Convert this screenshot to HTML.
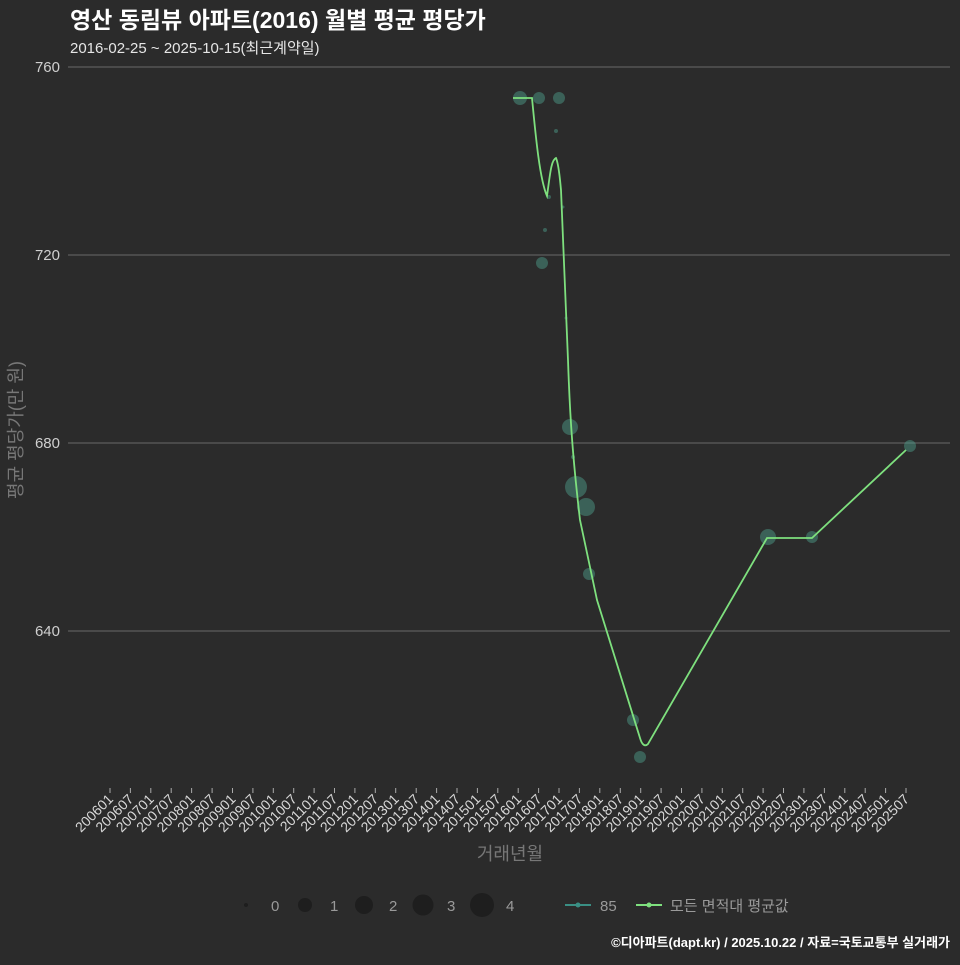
<!DOCTYPE html><html><head><meta charset="utf-8"><style>
body{margin:0;background:#2b2b2b;}
svg text{font-family:"Liberation Sans","Noto Sans CJK KR",sans-serif;}
</style></head><body>
<svg width="960" height="960" xmlns="http://www.w3.org/2000/svg">
<rect width="960" height="960" fill="#2b2b2b"/>
<text x="70" y="28" font-size="23" font-weight="bold" fill="#ffffff">영산 동림뷰 아파트(2016) 월별 평균 평당가</text>
<text x="70" y="53" font-size="15" fill="#e6e6e6">2016-02-25 ~ 2025-10-15(최근계약일)</text>
<g stroke="#6a6a6a" stroke-width="1">
<line x1="68" y1="67" x2="950" y2="67"/><line x1="68" y1="255" x2="950" y2="255"/>
<line x1="68" y1="443" x2="950" y2="443"/><line x1="68" y1="631" x2="950" y2="631"/>
</g>
<g font-size="15" fill="#cfcfcf" text-anchor="end">
<text x="60" y="72">760</text><text x="60" y="260">720</text><text x="60" y="448">680</text><text x="60" y="636">640</text>
</g>
<text transform="translate(22,430) rotate(-90)" font-size="18" fill="#777" text-anchor="middle">평균 평당가(만 원)</text>
<g stroke="#aaa" stroke-width="1">
<line x1="110.0" y1="788" x2="110.0" y2="793"/><line x1="130.4" y1="788" x2="130.4" y2="793"/><line x1="150.8" y1="788" x2="150.8" y2="793"/><line x1="171.2" y1="788" x2="171.2" y2="793"/><line x1="191.6" y1="788" x2="191.6" y2="793"/><line x1="212.1" y1="788" x2="212.1" y2="793"/><line x1="232.5" y1="788" x2="232.5" y2="793"/><line x1="252.9" y1="788" x2="252.9" y2="793"/><line x1="273.3" y1="788" x2="273.3" y2="793"/><line x1="293.7" y1="788" x2="293.7" y2="793"/><line x1="314.1" y1="788" x2="314.1" y2="793"/><line x1="334.5" y1="788" x2="334.5" y2="793"/><line x1="354.9" y1="788" x2="354.9" y2="793"/><line x1="375.3" y1="788" x2="375.3" y2="793"/><line x1="395.7" y1="788" x2="395.7" y2="793"/><line x1="416.2" y1="788" x2="416.2" y2="793"/><line x1="436.6" y1="788" x2="436.6" y2="793"/><line x1="457.0" y1="788" x2="457.0" y2="793"/><line x1="477.4" y1="788" x2="477.4" y2="793"/><line x1="497.8" y1="788" x2="497.8" y2="793"/><line x1="518.2" y1="788" x2="518.2" y2="793"/><line x1="538.6" y1="788" x2="538.6" y2="793"/><line x1="559.0" y1="788" x2="559.0" y2="793"/><line x1="579.4" y1="788" x2="579.4" y2="793"/><line x1="599.8" y1="788" x2="599.8" y2="793"/><line x1="620.3" y1="788" x2="620.3" y2="793"/><line x1="640.7" y1="788" x2="640.7" y2="793"/><line x1="661.1" y1="788" x2="661.1" y2="793"/><line x1="681.5" y1="788" x2="681.5" y2="793"/><line x1="701.9" y1="788" x2="701.9" y2="793"/><line x1="722.3" y1="788" x2="722.3" y2="793"/><line x1="742.7" y1="788" x2="742.7" y2="793"/><line x1="763.1" y1="788" x2="763.1" y2="793"/><line x1="783.5" y1="788" x2="783.5" y2="793"/><line x1="803.9" y1="788" x2="803.9" y2="793"/><line x1="824.4" y1="788" x2="824.4" y2="793"/><line x1="844.8" y1="788" x2="844.8" y2="793"/><line x1="865.2" y1="788" x2="865.2" y2="793"/><line x1="885.6" y1="788" x2="885.6" y2="793"/><line x1="906.0" y1="788" x2="906.0" y2="793"/>
</g>
<g font-size="14" fill="#d8d8d8" text-anchor="end">
<text transform="translate(114.0,800) rotate(-45)">200601</text><text transform="translate(134.4,800) rotate(-45)">200607</text><text transform="translate(154.8,800) rotate(-45)">200701</text><text transform="translate(175.2,800) rotate(-45)">200707</text><text transform="translate(195.6,800) rotate(-45)">200801</text><text transform="translate(216.1,800) rotate(-45)">200807</text><text transform="translate(236.5,800) rotate(-45)">200901</text><text transform="translate(256.9,800) rotate(-45)">200907</text><text transform="translate(277.3,800) rotate(-45)">201001</text><text transform="translate(297.7,800) rotate(-45)">201007</text><text transform="translate(318.1,800) rotate(-45)">201101</text><text transform="translate(338.5,800) rotate(-45)">201107</text><text transform="translate(358.9,800) rotate(-45)">201201</text><text transform="translate(379.3,800) rotate(-45)">201207</text><text transform="translate(399.7,800) rotate(-45)">201301</text><text transform="translate(420.2,800) rotate(-45)">201307</text><text transform="translate(440.6,800) rotate(-45)">201401</text><text transform="translate(461.0,800) rotate(-45)">201407</text><text transform="translate(481.4,800) rotate(-45)">201501</text><text transform="translate(501.8,800) rotate(-45)">201507</text><text transform="translate(522.2,800) rotate(-45)">201601</text><text transform="translate(542.6,800) rotate(-45)">201607</text><text transform="translate(563.0,800) rotate(-45)">201701</text><text transform="translate(583.4,800) rotate(-45)">201707</text><text transform="translate(603.8,800) rotate(-45)">201801</text><text transform="translate(624.3,800) rotate(-45)">201807</text><text transform="translate(644.7,800) rotate(-45)">201901</text><text transform="translate(665.1,800) rotate(-45)">201907</text><text transform="translate(685.5,800) rotate(-45)">202001</text><text transform="translate(705.9,800) rotate(-45)">202007</text><text transform="translate(726.3,800) rotate(-45)">202101</text><text transform="translate(746.7,800) rotate(-45)">202107</text><text transform="translate(767.1,800) rotate(-45)">202201</text><text transform="translate(787.5,800) rotate(-45)">202207</text><text transform="translate(807.9,800) rotate(-45)">202301</text><text transform="translate(828.4,800) rotate(-45)">202307</text><text transform="translate(848.8,800) rotate(-45)">202401</text><text transform="translate(869.2,800) rotate(-45)">202407</text><text transform="translate(889.6,800) rotate(-45)">202501</text><text transform="translate(910.0,800) rotate(-45)">202507</text>
</g>
<text x="510" y="860" font-size="18" fill="#777" text-anchor="middle">거래년월</text>
<g fill="rgba(80,165,145,0.45)">
<circle cx="520" cy="98" r="7"/><circle cx="539" cy="98" r="6"/><circle cx="559" cy="98" r="6"/>
<circle cx="556" cy="131" r="2"/><circle cx="545" cy="230" r="2"/><circle cx="542" cy="263" r="6"/>
<circle cx="549" cy="197" r="2"/><circle cx="563" cy="207" r="1.5"/><circle cx="570" cy="427" r="8"/>
<circle cx="573" cy="457" r="2"/><circle cx="576" cy="487" r="11"/><circle cx="586" cy="507" r="9"/>
<circle cx="589" cy="574" r="6"/><circle cx="633" cy="720" r="6"/><circle cx="640" cy="757" r="6"/>
<circle cx="768" cy="537" r="8"/><circle cx="812" cy="537" r="6"/><circle cx="910" cy="446" r="6"/>
<circle cx="566" cy="318" r="1.5"/>
</g>
<path d="M513,98 L532,98 C536,140 540,180 547,196 C550,175 551,160 556,158 C559,165 560,180 561,190 C564,260 566,320 568,360 C570,420 573,460 580,520 L597,600 L640,738 C642,745 645,747 648,744 L767,538 L812,538 L906,450" fill="none" stroke="#7ee07e" stroke-width="1.8"/>
<g font-size="15" fill="#9a9a9a">
<circle cx="246" cy="905" r="2" fill="#1e1e1e"/><text x="271" y="911">0</text>
<circle cx="305" cy="905" r="7" fill="#1e1e1e"/><text x="330" y="911">1</text>
<circle cx="364" cy="905" r="9" fill="#1e1e1e"/><text x="389" y="911">2</text>
<circle cx="423" cy="905" r="10.5" fill="#1e1e1e"/><text x="447" y="911">3</text>
<circle cx="482" cy="905" r="12" fill="#1e1e1e"/><text x="506" y="911">4</text>
<line x1="565" y1="905" x2="591" y2="905" stroke="#3a8f84" stroke-width="2"/><circle cx="578" cy="905" r="2.5" fill="#3a8f84"/><text x="600" y="911">85</text>
<line x1="636" y1="905" x2="662" y2="905" stroke="#7ee07e" stroke-width="2"/><circle cx="649" cy="905" r="2.5" fill="#7ee07e"/><text x="670" y="911">모든 면적대 평균값</text>
</g>
<text x="950" y="947" font-size="13" font-weight="bold" fill="#ffffff" text-anchor="end">©디아파트(dapt.kr) / 2025.10.22 / 자료=국토교통부 실거래가</text>
</svg></body></html>
